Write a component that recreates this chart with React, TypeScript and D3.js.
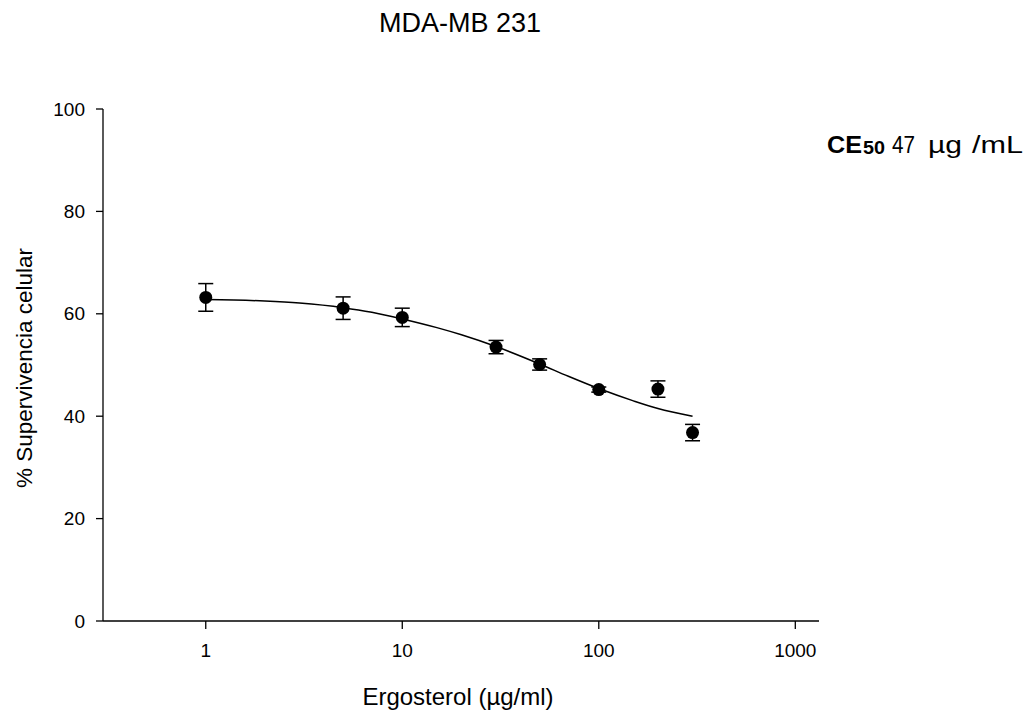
import React from "react";
import * as d3 from "d3";

const concentrations = [1, 5, 10, 30, 50, 100, 200, 300];
const survival = [63.2, 61.1, 59.3, 53.5, 50.1, 45.2, 45.3, 36.8];
const errors = [2.7, 2.2, 1.8, 1.3, 1.1, 0.5, 1.6, 1.6];

const fitX = [1, 2, 3, 5, 7, 10, 15, 20, 30, 50, 70, 100, 150, 200, 300];
const fitY = [62.8, 62.5, 62.1, 61.2, 60.3, 59.0, 57.3, 55.9, 53.6, 50.2, 47.8, 45.4, 43.0, 41.5, 40.0];

const xTicks = [1, 10, 100, 1000];
const yTicks = [0, 20, 40, 60, 80, 100];

const W = 1027;
const H = 713;
const font = "Arial, 'Liberation Sans', Helvetica, sans-serif";

export default function App() {
  const x = d3.scaleLog().domain([0.3, 1320]).range([103, 819]);
  const y = d3.scaleLinear().domain([0, 100]).range([621, 109]);
  const line = d3
    .line<number>()
    .x((_, i) => x(fitX[i]))
    .y((d) => y(d))
    .curve(d3.curveMonotoneX);

  const x0 = x.range()[0];
  const y0 = y.range()[0];

  return (
    <svg
      width={W}
      height={H}
      style={{ position: "absolute", left: 0, top: 0, background: "#fff" }}
      fontFamily={font}
    >
      <rect width={W} height={H} fill="#fff" />
      <text x={460} y={32} fontSize={27} textAnchor="middle" fill="#000">
        MDA-MB 231
      </text>

      {/* axes */}
      <line x1={x0} x2={x0} y1={y(100)} y2={y0} stroke="#000" strokeWidth={1.3} />
      <line x1={x0} x2={x.range()[1]} y1={y0} y2={y0} stroke="#000" strokeWidth={1.3} />

      {yTicks.map((t) => (
        <g key={"y" + t}>
          <line x1={x0 - 7} x2={x0} y1={y(t)} y2={y(t)} stroke="#000" strokeWidth={1.3} />
          <text x={85} y={y(t) + 6.5} fontSize={19} textAnchor="end" fill="#000">
            {t}
          </text>
        </g>
      ))}
      {xTicks.map((t) => (
        <g key={"x" + t}>
          <line x1={x(t)} x2={x(t)} y1={y0} y2={y0 + 8} stroke="#000" strokeWidth={1.3} />
          <text x={x(t)} y={657} fontSize={19} textAnchor="middle" fill="#000">
            {t}
          </text>
        </g>
      ))}

      <text x={458} y={705} fontSize={24} textAnchor="middle" fill="#000">
        Ergosterol (µg/ml)
      </text>
      <text
        transform={`translate(32, 368) rotate(-90)`}
        fontSize={22.5}
        textAnchor="middle"
        fill="#000"
      >
        % Supervivencia celular
      </text>

      {/* fitted curve */}
      <path d={line(fitY) || ""} fill="none" stroke="#000" strokeWidth={1.5} />

      {/* error bars and points */}
      {concentrations.map((c, i) => {
        const cx = x(c);
        const top = y(survival[i] + errors[i]);
        const bot = y(survival[i] - errors[i]);
        return (
          <g key={"p" + i}>
            <line x1={cx} x2={cx} y1={top} y2={bot} stroke="#000" strokeWidth={1.5} />
            <line x1={cx - 7.5} x2={cx + 7.5} y1={top} y2={top} stroke="#000" strokeWidth={1.5} />
            <line x1={cx - 7.5} x2={cx + 7.5} y1={bot} y2={bot} stroke="#000" strokeWidth={1.5} />
            <circle cx={cx} cy={y(survival[i])} r={6.5} fill="#000" />
          </g>
        );
      })}

      <g fill="#000">
        <text x={827} y={153} fontSize={23} fontWeight="bold" textLength={35} lengthAdjust="spacingAndGlyphs">CE</text>
        <text x={863} y={154} fontSize={17.5} fontWeight="bold" textLength={22} lengthAdjust="spacingAndGlyphs">50</text>
        <text x={892} y={153} fontSize={23} textLength={23} lengthAdjust="spacingAndGlyphs">47</text>
        <text x={928} y={153} fontSize={23} textLength={34} lengthAdjust="spacingAndGlyphs">µg</text>
        <text x={972} y={153} fontSize={23} textLength={51} lengthAdjust="spacingAndGlyphs">/mL</text>
      </g>
    </svg>
  );
}
